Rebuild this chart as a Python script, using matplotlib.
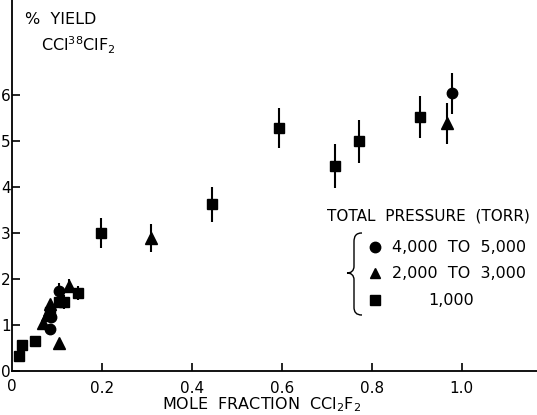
import matplotlib
matplotlib.use("agg")
import matplotlib.pyplot as plt
from matplotlib.path import Path
from matplotlib.patches import PathPatch

plt.rcParams["font.family"] = "DejaVu Sans"
plt.rcParams["mathtext.default"] = "regular"

# % yield CCl(38)ClF2 vs mole fraction CCl2F2, by total pressure
circle_x = [0.084, 0.086, 0.104, 0.978]
circle_y = [0.91, 1.17, 1.74, 6.04]
circle_err = [0, 0, 0.18, 0.45]

tri_x = [0.069, 0.078, 0.082, 0.084, 0.104, 0.112, 0.127, 0.309, 0.967]
tri_y = [1.05, 1.22, 1.33, 1.45, 0.61, 1.55, 1.85, 2.89, 5.39]
tri_err = [0, 0, 0, 0, 0, 0.12, 0.15, 0.30, 0.45]

sq_x = [0.016, 0.022, 0.051, 0.084, 0.104, 0.116, 0.147, 0.198, 0.444,
        0.593, 0.718, 0.771, 0.907]
sq_y = [0.33, 0.57, 0.65, 1.28, 1.50, 1.50, 1.70, 3.00, 3.63,
        5.28, 4.46, 5.00, 5.52]
sq_err = [0, 0, 0, 0, 0, 0.15, 0.15, 0.33, 0.38, 0.43, 0.48, 0.47, 0.46]

legend_labels = ["4,000  TO  5,000", "2,000  TO  3,000", "1,000"]

W, H = 537, 415
fig = plt.figure(figsize=(W / 100, H / 100), dpi=100)
ax = fig.add_axes([12 / W, 44 / H, 525 / W, 371 / H])


def fp(px, py):
    # pixel position -> figure fraction
    return px / W, 1 - py / H


ms = 7.5
for xs, ys, es, mk, size in [
    (sq_x, sq_y, sq_err, "s", ms),
    (tri_x, tri_y, tri_err, "^", ms + 1),
    (circle_x, circle_y, circle_err, "o", ms),
]:
    ax.errorbar(xs, ys, yerr=es, fmt=mk, color="black", ms=size,
                elinewidth=1.5, capsize=0, clip_on=False)

ax.set_xlim(0, 1.167)
ax.set_ylim(0, 8.07)
for s in ["top", "right"]:
    ax.spines[s].set_visible(False)
for s in ["left", "bottom"]:
    ax.spines[s].set_linewidth(1.3)

ax.set_xticks([0.2, 0.4, 0.6, 0.8, 1.0])
ax.set_yticks([0, 1, 2, 3, 4, 5, 6])
ax.tick_params(direction="in", length=6, width=1.2, labelsize=11)
ax.tick_params(axis="x", pad=7)
ax.tick_params(axis="y", pad=1)
ax.set_xticklabels(["0.2", "0.4", "0.6", "0.8", "1.0"])
fig.text(*fp(12, 386), "0", fontsize=11, ha="center", va="center")

fig.text(*fp(262, 405), r"MOLE  FRACTION  CCl$_2$F$_2$", fontsize=11.5,
         ha="center", va="center")

fig.text(*fp(25, 20), "%  YIELD", fontsize=11.5, va="center")
fig.text(*fp(41, 45), r"CCl$^{38}$ClF$_2$", fontsize=11.5, va="center")

# legend drawn by hand
fig.text(*fp(327, 216), "TOTAL  PRESSURE  (TORR)", fontsize=11,
         va="center")
rows = [247, 273, 300]
for mk, lab, py in zip(["o", "^", "s"], legend_labels, rows):
    x0, y0 = fp(375, py)
    fig.add_artist(plt.Line2D([x0], [y0], marker=mk, color="black",
                              ms=ms, linestyle="none"))
    tx = 392 if lab != "1,000" else 428
    fig.text(*fp(tx, py), lab, fontsize=11.5, va="center")

# curly brace
pts = [(362, 233), (356, 233), (354, 236), (354, 242),
       (354, 266), (354, 271), (351, 273), (347, 273),
       (351, 273), (354, 275), (354, 280),
       (354, 307), (354, 312), (356, 315), (362, 315)]
codes = [Path.MOVETO, Path.CURVE4, Path.CURVE4, Path.CURVE4,
         Path.LINETO, Path.CURVE4, Path.CURVE4, Path.CURVE4,
         Path.CURVE4, Path.CURVE4, Path.CURVE4,
         Path.LINETO, Path.CURVE4, Path.CURVE4, Path.CURVE4]
path = Path([fp(*p) for p in pts], codes)
fig.add_artist(PathPatch(path, fill=False, lw=1.0, color="black",
                         transform=fig.transFigure))

fig.savefig("out.png", dpi=100)
